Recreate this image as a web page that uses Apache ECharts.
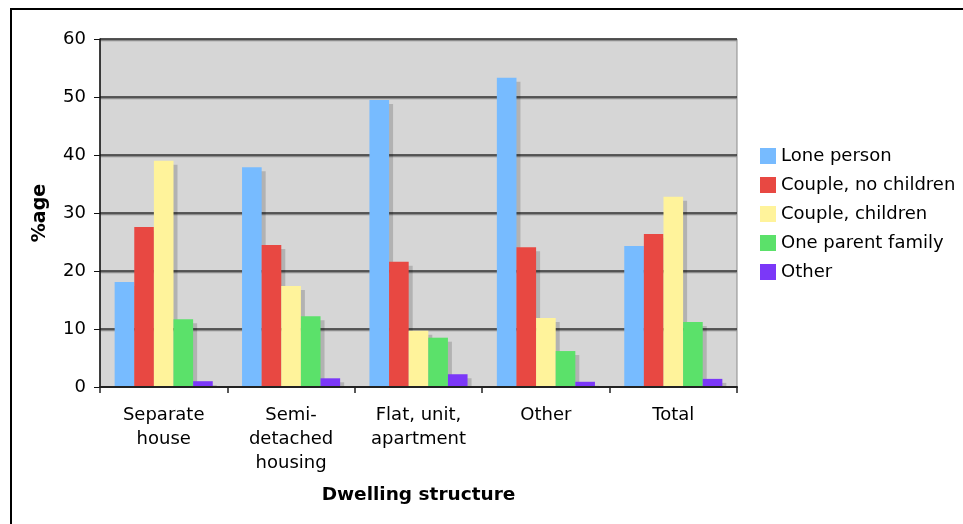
<!DOCTYPE html>
<html>
<head>
<meta charset="utf-8">
<script src="https://cdn.jsdelivr.net/npm/echarts@6/dist/echarts.min.js"></script>
<style>
  html, body { margin: 0; padding: 0; background: #fff; }
  #chart { width: 963px; height: 524px; }
</style>
</head>
<body>
<div id="chart"></div>
<script>
// Household composition by dwelling structure (% of households)
const categories = ['Separate\nhouse', 'Semi-\ndetached\nhousing', 'Flat, unit,\napartment', 'Other', 'Total'];
const lonePerson       = [18.1, 37.9, 49.5, 53.3, 24.3];
const coupleNoChildren = [27.6, 24.5, 21.6, 24.1, 26.4];
const coupleChildren   = [39.0, 17.4, 9.7, 11.9, 32.8];
const oneParentFamily  = [11.7, 12.2, 8.5, 6.2, 11.2];
const otherHousehold   = [1.0, 1.5, 2.2, 0.9, 1.4];
const yTicks = { min: 0, max: 60, interval: 10 };

const FONT = 'DejaVu Sans';
const FS = 18;

const seriesDefs = [
  { name: 'Lone person', data: lonePerson, color: '#77BBFF' },
  { name: 'Couple, no children', data: coupleNoChildren, color: '#E84842' },
  { name: 'Couple, children', data: coupleChildren, color: '#FFF39B' },
  { name: 'One parent family', data: oneParentFamily, color: '#5BE16A' },
  { name: 'Other', data: otherHousehold, color: '#7B38F8' }
];

const chart = echarts.init(document.getElementById('chart'), null, { renderer: 'canvas' });

chart.setOption({
  animation: false,
  backgroundColor: '#ffffff',
  textStyle: { fontFamily: FONT, color: '#000' },
  graphic: [
    {
      // outer frame of the chart
      type: 'rect',
      z: -10,
      shape: { x: 11, y: 9, width: 1000, height: 600 },
      style: { fill: 'none', stroke: '#000', lineWidth: 2 }
    },
    {
      // keeps the drop shadows from spilling below the category axis
      type: 'rect',
      z: 4,
      shape: { x: 99, y: 388, width: 650, height: 8 },
      style: { fill: '#ffffff' }
    }
  ],
  grid: {
    left: 100, top: 39, right: 226, bottom: 137,
    show: true,
    backgroundColor: '#D6D6D6',
    borderColor: '#8a8a8a',
    borderWidth: 1
  },
  legend: {
    orient: 'vertical',
    left: 755,
    top: 142,
    itemWidth: 16,
    itemHeight: 16,
    itemGap: 11,
    icon: 'rect',
    textStyle: { fontFamily: FONT, fontSize: FS, color: '#000' },
    data: seriesDefs.map(s => s.name)
  },
  xAxis: {
    type: 'category',
    data: categories,
    z: 6,
    name: 'Dwelling structure',
    nameLocation: 'middle',
    nameGap: 99,
    nameTextStyle: { fontFamily: FONT, fontSize: 18.5, fontWeight: 'bold', color: '#000' },
    axisLine: { lineStyle: { color: '#222', width: 2 } },
    axisTick: { show: true, length: 6, lineStyle: { color: '#222', width: 1.5 } },
    axisLabel: { fontFamily: FONT, fontSize: FS, color: '#000', margin: 16, lineHeight: 24 }
  },
  yAxis: {
    type: 'value',
    min: yTicks.min,
    max: yTicks.max,
    interval: yTicks.interval,
    name: '%age',
    nameLocation: 'middle',
    nameGap: 50,
    nameRotate: 90,
    nameTextStyle: { fontFamily: FONT, fontSize: 19, fontWeight: 'bold', color: '#000' },
    axisLine: { show: true, lineStyle: { color: '#111', width: 1.5 } },
    axisTick: { show: true, length: 6, lineStyle: { color: '#111' } },
    axisLabel: { fontFamily: FONT, fontSize: FS, color: '#000', margin: 14 },
    splitLine: {
      show: true,
      lineStyle: { color: '#2e2e2e', width: 1.5, shadowColor: '#8c8c8c', shadowOffsetY: 1.5, shadowBlur: 0 }
    }
  },
  series: seriesDefs.map(s => ({
    type: 'bar',
    name: s.name,
    data: s.data,
    barGap: '0%',
    barCategoryGap: '23%',
    itemStyle: {
      color: s.color,
      shadowColor: 'rgba(0,0,0,0.17)',
      shadowOffsetX: 4,
      shadowOffsetY: 4,
      shadowBlur: 0
    }
  }))
});
</script>
</body>
</html>
